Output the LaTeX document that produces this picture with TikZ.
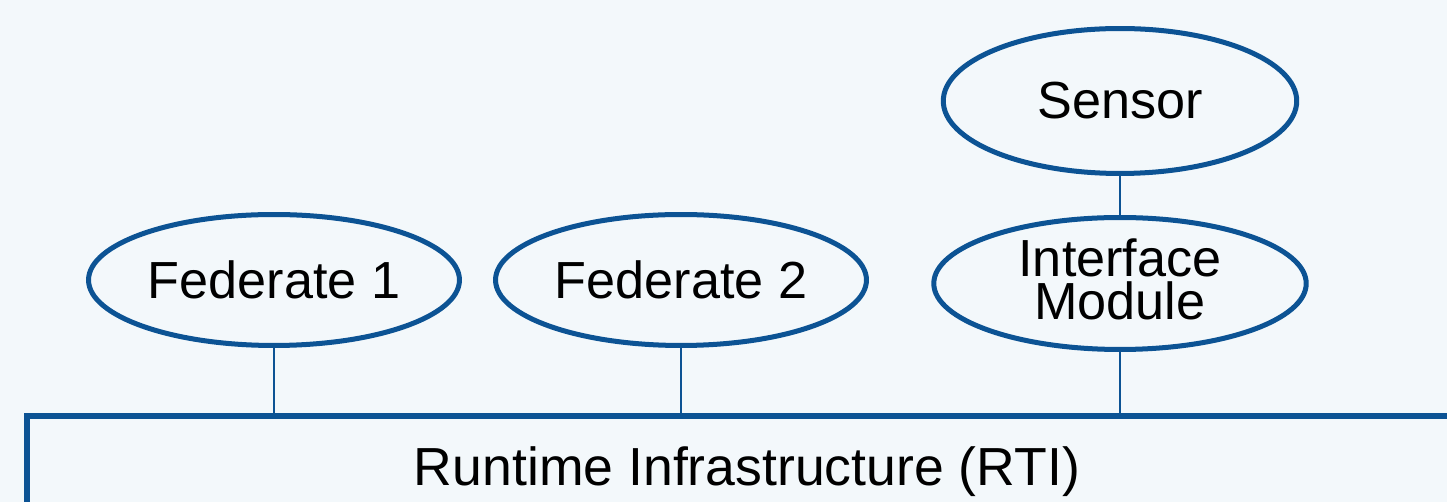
\documentclass[tikz,border=0pt]{standalone}
\usepackage{fontspec}
\setmainfont{Liberation Sans}
\definecolor{rtiblue}{RGB}{12,83,148}
\definecolor{bgblue}{RGB}{243,248,251}
\tikzset{
  fed/.style={ellipse,draw=rtiblue,line width=2.85pt,inner sep=0pt,
    minimum width=7.42cm,minimum height=2.62cm,
    font=\fontsize{29.7}{24}\selectfont,align=center},
  link/.style={draw=rtiblue,line width=1.3pt}
}
\usetikzlibrary{shapes.geometric}
\begin{document}
\begin{tikzpicture}[x=0.02cm,y=-0.02cm]
        \fill[bgblue] (0,0) rectangle (1447,502);
        \useasboundingbox (0,0) rectangle (1447,502);
        \clip (0,0) rectangle (1447,502);
        \draw (274,280) node[fed](fed1){Federate 1};
        \draw (681,280) node[fed](fed2){Federate 2};
        \draw (1120,283.5) node[fed,minimum width=7.45cm,minimum height=2.64cm,text depth=5pt](ifm){Interface\\Module};
        \draw (1120,101) node[fed,minimum width=7.07cm,minimum height=2.9cm](sensor){Sensor};
        \node[draw=rtiblue,line width=3.4pt,anchor=north west,inner sep=0pt,outer sep=0pt,
          minimum width=30cm,minimum height=4cm] (rti) at (27,416) {};
        \draw (747,472) node[font=\fontsize{30.5}{34}\selectfont](rtilabel){Runtime Infrastructure (RTI)};
        \draw[link]
          (fed1) -- (fed1 |- rti.north)
          (fed2) -- (fed2 |- rti.north)
          (ifm) -- (ifm |- rti.north)
          (sensor) -- (ifm)
        ;
      \end{tikzpicture}
\end{document}
